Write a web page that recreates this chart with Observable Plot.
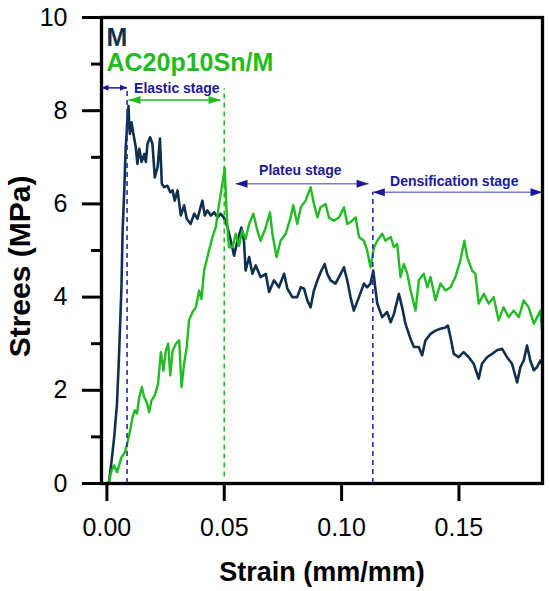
<!DOCTYPE html>
<html><head><meta charset="utf-8">
<script src="https://cdn.jsdelivr.net/npm/d3@7"></script>
<script src="https://cdn.jsdelivr.net/npm/@observablehq/plot@0.6"></script>
<style>body{margin:0;background:#fff}</style>
</head><body><div id="chart"></div>
<script>
// ---- data ----
const mStrain = [0.0008,0.0017,0.0031,0.0043,0.0052,0.0062,0.0067,0.0074,0.0080,0.0084,0.0088,0.0092,0.0095,0.0098,0.0105,0.0113,0.0123,0.0130,0.0138,0.0148,0.0159,0.0166,0.0173,0.0184,0.0194,0.0204,0.0216,0.0226,0.0234,0.0244,0.0258,0.0270,0.0280,0.0289,0.0301,0.0315,0.0329,0.0340,0.0357,0.0372,0.0386,0.0397,0.0407,0.0417,0.0428,0.0443,0.0457,0.0471,0.0485,0.0499,0.0514,0.0528,0.0542,0.0556,0.0573,0.0584,0.0591,0.0606,0.0620,0.0634,0.0655,0.0677,0.0691,0.0712,0.0733,0.0755,0.0769,0.0790,0.0811,0.0826,0.0840,0.0854,0.0868,0.0882,0.0897,0.0914,0.0928,0.0939,0.0953,0.0974,0.0996,0.1010,0.1024,0.1038,0.1052,0.1074,0.1095,0.1109,0.1123,0.1135,0.1145,0.1152,0.1173,0.1194,0.1209,0.1223,0.1244,0.1258,0.1272,0.1294,0.1308,0.1329,0.1343,0.1357,0.1379,0.1400,0.1421,0.1443,0.1453,0.1464,0.1478,0.1499,0.1520,0.1542,0.1563,0.1584,0.1598,0.1620,0.1641,0.1662,0.1684,0.1705,0.1726,0.1748,0.1762,0.1776,0.1790,0.1804,0.1819,0.1833,0.1847,0.1855];
const mStress = [0,0.35,0.99,1.71,2.78,4.21,5.43,6.29,7.2,7.5,7.9,8.1,7.7,7.5,7.75,7.5,7.22,6.86,7.18,6.9,7.07,6.9,7.29,7.43,7.29,6.57,6.79,7.4,6.43,6.36,6.39,6.25,6.29,6.07,6.29,5.75,5.97,5.68,5.57,5.79,5.68,5.89,6.07,5.75,5.86,5.75,5.82,5.71,5.79,5.7,5.5,5.21,4.89,5.21,5.49,5.21,4.57,4.86,4.5,4.68,4.43,4.5,4.11,4.36,4.21,4.5,4.18,4.0,4.0,4.21,4.18,3.93,3.78,4.14,4.36,4.57,4.71,4.5,4.36,4.29,4.5,4.64,4.36,4.0,3.71,4.0,4.29,4.21,4.29,4.57,4.14,3.86,3.57,3.68,3.46,3.64,4.07,3.78,3.43,3.1,2.93,2.93,2.75,3.07,3.21,3.28,3.32,3.35,3.39,3.14,2.78,2.71,2.82,2.71,2.57,2.25,2.57,2.71,2.78,2.86,2.89,2.71,2.57,2.17,2.5,2.64,2.96,2.64,2.43,2.5,2.64,2.55];

const cStrain = [0.0008,0.001,0.002,0.0031,0.0043,0.0052,0.0062,0.0077,0.0088,0.0099,0.0109,0.0119,0.0128,0.0138,0.0149,0.0159,0.017,0.018,0.019,0.0204,0.0218,0.023,0.0241,0.0251,0.0261,0.027,0.028,0.0294,0.0308,0.0318,0.0329,0.034,0.035,0.0365,0.0379,0.0393,0.0403,0.0414,0.0421,0.0435,0.045,0.0464,0.0478,0.0492,0.0502,0.0509,0.0516,0.052,0.0535,0.0542,0.0549,0.0563,0.0577,0.0591,0.0606,0.0624,0.0641,0.0655,0.0677,0.0695,0.0705,0.0723,0.074,0.0762,0.0783,0.0794,0.0811,0.0826,0.0847,0.0868,0.0882,0.0897,0.091,0.0932,0.0946,0.0967,0.0989,0.101,0.1024,0.1045,0.106,0.1074,0.1095,0.1109,0.1123,0.1138,0.1152,0.1173,0.1187,0.1209,0.1223,0.1237,0.1251,0.1265,0.128,0.1294,0.1315,0.1329,0.135,0.1365,0.1379,0.14,0.1421,0.1443,0.1464,0.1485,0.1506,0.1523,0.1535,0.1556,0.157,0.1584,0.1606,0.1627,0.1648,0.1669,0.169,0.1712,0.1733,0.1755,0.1776,0.1797,0.1819,0.1833,0.1847,0.1854];
const cStress = [0,0.06,0.28,0.39,0.24,0.39,0.56,0.67,0.89,1.14,1.42,1.57,1.5,1.85,2.07,1.85,1.74,1.53,1.78,1.89,2.14,2.82,2.42,2.85,3.0,2.32,2.85,3.0,3.07,2.07,2.57,2.92,3.5,3.68,3.78,4.14,3.96,4.57,4.71,5.0,5.29,5.5,6.0,6.43,6.77,5.93,5.3,5.07,5.07,5.21,5.36,5.1,5.43,5.25,5.57,5.79,5.43,5.21,5.5,5.82,5.36,4.86,5.21,5.36,5.71,5.97,5.57,5.93,6.07,6.36,6.0,5.71,5.93,6.0,5.71,5.64,5.71,5.93,5.57,5.64,5.71,5.29,5.21,5.0,4.64,5.07,5.21,5.36,5.21,5.29,5.07,5.14,4.43,4.71,4.5,4.14,3.71,4.36,4.5,4.21,4.43,3.93,4.29,4.14,4.21,4.43,4.79,5.21,4.86,4.57,4.5,3.86,4.07,3.86,4.0,3.5,3.78,3.57,3.71,3.57,3.93,3.78,3.43,3.57,3.71,3.28];

const seriesNames = ["M", "AC20p10Sn/M"];
const stageLabels = ["Elastic stage", "Plateu stage", "Densification stage"];
const stageLabelX = [0.0298, 0.0824, 0.148];
const stageLabelY = [8.39, 6.61, 6.39];
// stage arrows: elastic (M), elastic (composite), plateau, densification
const arrowStart = [-0.0023, 0.0092, 0.0548, 0.1133];
const arrowEnd   = [0.0086, 0.0484, 0.1115, 0.1856];
const arrowY     = [8.49, 8.23, 6.43, 6.25];
// dashed stage boundaries
const dashX      = [0.0086, 0.05, 0.1133];
const dashTop    = [8.43, 8.47, 6.25];
const dashBottom = [0, 0.14, 0];

const xTicks = [0, 0.05, 0.10, 0.15];
const yMajorTicks = [0, 2, 4, 6, 8, 10];
const yMinorTicks = [1, 3, 5, 7, 9];

// ---- styles ----
const NAVY = "#10304f", GREEN = "#22bb22", BLUE = "#1a1a99", LIGHTBLUE = "#7b7bd6", DASHBLUE = "#2a2ab0";
const FONT = "'Liberation Sans', Arial, Helvetica, sans-serif";

const mData = mStrain.map((s, i) => ({strain: s, stress: mStress[i]}));
const cData = cStrain.map((s, i) => ({strain: s, stress: cStress[i]}));

function headSymbol(L, H) {
  return {draw(ctx) { ctx.moveTo(0, 0); ctx.lineTo(-L, -H); ctx.lineTo(-L, H); ctx.closePath(); }};
}
const headSmall = headSymbol(7, 3);
const headLarge = headSymbol(12, 4);

const idx = [0, 1, 2, 3];
const lineColors = [BLUE, GREEN, LIGHTBLUE, LIGHTBLUE];
const headColors = [BLUE, GREEN, BLUE, BLUE];

const marks = [
  Plot.line(mData, {x: "strain", y: "stress", stroke: NAVY, strokeWidth: 2.6, strokeLinejoin: "round", clip: true}),
  Plot.line(cData, {x: "strain", y: "stress", stroke: GREEN, strokeWidth: 2.4, strokeLinejoin: "round", clip: true}),
  Plot.ruleX([0, 2], {x: i => dashX[i], y1: i => dashBottom[i], y2: i => dashTop[i], stroke: DASHBLUE, strokeWidth: 1.6, strokeDasharray: "5,4"}),
  Plot.ruleX([1], {x: i => dashX[i], y1: i => dashBottom[i], y2: i => dashTop[i], stroke: GREEN, strokeWidth: 1.6, strokeDasharray: "5,4"}),
  Plot.link(idx, {x1: i => arrowStart[i], x2: i => arrowEnd[i], y1: i => arrowY[i], y2: i => arrowY[i], stroke: i => lineColors[i], strokeWidth: 1.5}),
  Plot.dot([0], {x: i => arrowStart[i], y: i => arrowY[i], symbol: headSmall, rotate: 180, fill: i => headColors[i], stroke: null}),
  Plot.dot([0], {x: i => arrowEnd[i], y: i => arrowY[i], symbol: headSmall, rotate: 0, fill: i => headColors[i], stroke: null}),
  Plot.dot([1, 2, 3], {x: i => arrowStart[i], y: i => arrowY[i], symbol: headLarge, rotate: 180, fill: i => headColors[i], stroke: null}),
  Plot.dot([1, 2, 3], {x: i => arrowEnd[i], y: i => arrowY[i], symbol: headLarge, rotate: 0, fill: i => headColors[i], stroke: null}),
  Plot.text(stageLabels, {x: (d, i) => stageLabelX[i], y: (d, i) => stageLabelY[i], text: d => d, fill: BLUE, fontSize: 14, fontWeight: "bold", lineAnchor: "bottom", textAnchor: "middle"}),
  // legend
  Plot.text([seriesNames[0]], {frameAnchor: "top-left", text: d => d, dx: 5, dy: 28, fill: NAVY, fontSize: 25, fontWeight: "bold", lineAnchor: "bottom", textAnchor: "start"}),
  Plot.text([seriesNames[1]], {frameAnchor: "top-left", text: d => d, dx: 5, dy: 53, fill: GREEN, fontSize: 25, fontWeight: "bold", lineAnchor: "bottom", textAnchor: "start"}),
  // axes
  Plot.axisY(yMajorTicks, {tickSize: 19, tickPadding: 15, fontSize: 25, strokeWidth: 3, stroke: "black", fill: "black", label: null}),
  Plot.axisY(yMinorTicks, {tickSize: 10, tickFormat: () => "", strokeWidth: 3, stroke: "black", label: null}),
  Plot.axisX(xTicks, {tickSize: 18, tickPadding: 17, fontSize: 25, strokeWidth: 3, stroke: "black", fill: "black", tickFormat: d3.format(".2f"), label: null}),
  Plot.frame({stroke: "black", strokeWidth: 3.3}),
  // axis titles
  Plot.text(["Strain (mm/mm)"], {frameAnchor: "bottom", text: d => d, dy: 97, fontSize: 27, fontWeight: "bold", fill: "black", lineAnchor: "bottom", textAnchor: "middle"}),
  Plot.text(["Strees (MPa)"], {frameAnchor: "left", text: d => d, dx: -81, dy: 16, rotate: -90, fontSize: 30, fontWeight: "bold", fill: "black", lineAnchor: "middle", textAnchor: "middle"})
];

const chart = Plot.plot({
  width: 550,
  height: 591,
  marginLeft: 101,
  marginRight: 8,
  marginTop: 17,
  marginBottom: 108,
  style: {fontFamily: FONT, background: "#fff", overflow: "visible"},
  x: {domain: [-0.0023, 0.1856]},
  y: {domain: [0, 10]},
  marks
});
document.getElementById("chart").appendChild(chart);
</script>
</body></html>
